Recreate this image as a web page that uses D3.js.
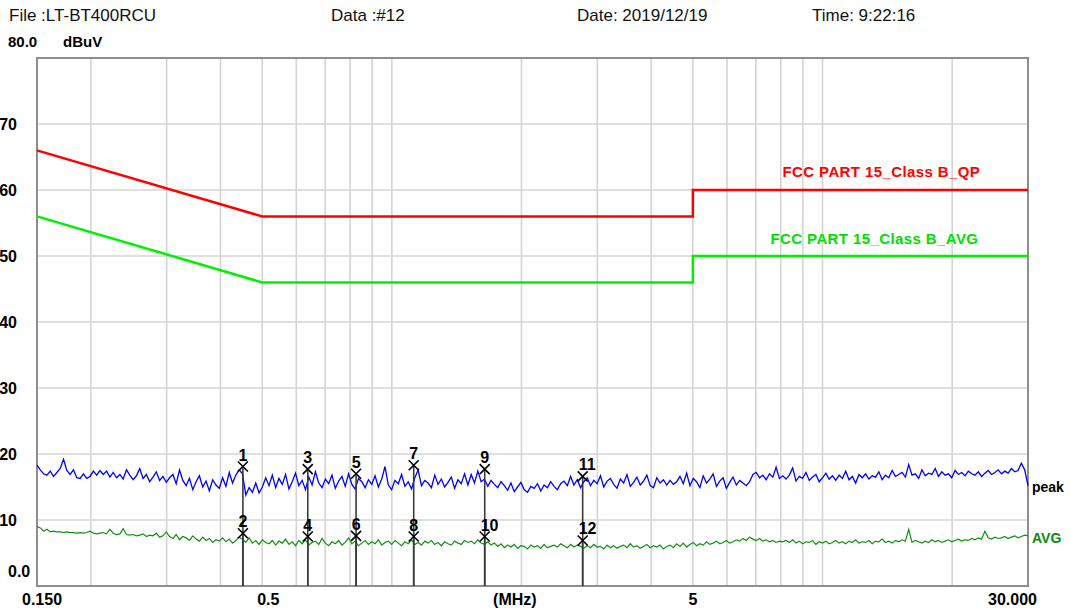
<!DOCTYPE html>
<html>
<head>
<meta charset="utf-8">
<script src="https://cdn.jsdelivr.net/npm/d3@7"></script>
<style>
  body { margin: 0; background: #fff; }
  svg { display: block; }
  text { font-family: "Liberation Sans", Arial, sans-serif; }
</style>
</head>
<body>
<div id="container"></div>
<script>
// header info
const headerLabels = ["File :LT-BT400RCU", "Data :#12", "Date: 2019/12/19", "Time: 9:22:16"];

// axes
const xGridFreqs = [0.2, 0.3, 0.4, 0.5, 0.6, 0.7, 0.8, 0.9, 1, 2, 3, 4, 5, 6, 7, 8, 9, 10, 20];
const xTickFreqs = [0.15, 0.5, 5, 30];
const xTickLabels = ["0.150", "0.5", "5", "30.000"];
const yTickValues = [0, 10, 20, 30, 40, 50, 60, 70];
const yTickLabels = ["0.0", "10", "20", "30", "40", "50", "60", "70"];

// limit lines (FCC Part 15 Class B)
const limitFreqs = [0.15, 0.5, 5, 5, 30];
const qpLimit = [66, 56, 56, 60, 60];
const avgLimit = [56, 46, 46, 50, 50];

// sweep 0.15 - 30 MHz, peak and average detector (dBuV)
const peakTrace = [
  18.3, 17.6, 17.0, 16.8, 17.4, 16.6, 17.2, 17.8, 19.2, 17.5, 16.9, 17.6, 16.4, 16.3, 17.0, 16.3, 16.6, 17.4, 16.8, 17.5, 16.9,
  17.4, 16.5, 17.2, 16.4, 16.9, 16.2, 17.6, 16.8, 16.1, 16.7, 17.8, 16.3, 16.9, 15.8, 16.5, 17.3, 16.0, 16.6, 15.7, 16.4,
  16.9, 15.5, 17.6, 16.0, 15.2, 16.3, 14.6, 15.8, 16.7, 15.0, 15.9, 14.4, 16.1, 15.3, 14.8, 16.4, 15.1, 17.2, 15.6, 16.8,
  17.6, 17.0, 13.8, 14.9, 14.2, 15.6, 14.1, 15.0, 16.4, 15.2,
  16.8, 14.9, 16.3, 15.4, 16.9, 14.7, 15.8, 17.1, 15.2, 16.0, 14.6, 16.5, 15.3, 17.3, 15.6, 14.9, 16.2, 15.5, 16.8, 14.8,
  15.9, 16.6, 15.1, 17.0, 15.4, 14.7, 16.3, 15.8, 14.9, 16.1,
  15.4, 16.7, 15.0, 16.2, 18.1, 15.3, 14.6, 16.0, 15.5, 16.9, 15.1, 15.8, 14.7, 16.4, 17.6, 15.2, 16.0, 15.6, 14.9, 16.8,
  15.4, 16.2, 15.0, 15.7, 16.5, 14.8, 16.1, 15.5, 17.0, 15.3,
  16.9, 15.6, 17.4, 15.8, 16.2, 15.1, 16.0, 15.4, 14.9, 15.8, 15.2, 14.5, 15.6, 14.3, 15.0, 15.7, 14.6, 14.2, 15.1, 14.8,
  15.5, 14.4, 15.3, 14.9, 15.8, 15.1, 14.6, 15.5, 15.9, 15.2,
  16.6, 15.3, 16.1, 14.9, 15.8, 16.4, 15.2, 16.0, 15.5, 16.7, 15.0, 15.9, 16.3, 15.4, 14.8, 16.2, 15.6, 16.9, 15.1, 15.7,
  16.5, 15.3, 15.9, 16.8, 15.2, 14.9, 16.4, 15.6, 16.1, 15.3,
  16.0, 15.4, 15.8, 16.6, 15.5, 17.1, 15.2, 16.3, 15.8, 14.9, 16.7, 15.6, 16.2, 17.0, 15.1, 15.9, 16.4, 14.8, 15.7, 16.5,
  15.3, 16.0, 15.6, 15.2, 15.8, 16.9, 17.2, 16.4, 16.8, 16.1, 17.0, 16.5, 18.0, 16.3, 16.7,
  16.2, 16.8, 17.9, 15.9, 16.6, 16.3, 17.2, 16.0, 16.5, 16.9, 15.8, 16.4, 17.1, 16.2, 16.7, 16.0, 16.8, 16.3, 17.4, 16.1,
  16.6, 15.6, 16.9, 16.4, 17.0, 16.2, 16.7, 16.5, 17.3, 16.1, 16.8, 16.4, 17.5, 16.6, 16.9,
  17.2, 16.5, 18.4, 16.8, 17.0, 16.3, 17.6, 16.7, 17.1, 16.9, 17.8, 16.6, 17.3, 16.8, 17.0, 16.4, 17.5, 16.9, 17.2, 16.7,
  17.4, 17.0, 16.8, 17.3, 16.6, 17.1, 17.5, 16.9, 17.2, 17.6, 17.0, 17.4, 17.1, 17.8, 17.3, 17.5, 18.6, 17.6, 15.2
];
const avgTrace = [
  9.0, 8.8, 8.3, 8.6, 8.2, 8.3, 8.2, 8.2, 8.1, 8.2, 8.1, 8.1, 8.0, 8.1, 8.0, 8.1, 8.3, 8.0, 7.9, 8.0, 8.1,
  7.9, 8.6, 8.0, 7.8, 7.9, 8.7, 7.8, 7.7, 7.8, 7.6, 7.7, 7.9, 7.5, 7.7, 7.6, 8.0, 7.4, 7.6, 8.2, 7.5,
  7.2, 7.8, 7.0, 7.5, 7.3, 6.9, 7.6, 7.1, 6.8, 7.4, 6.9, 7.2, 6.6, 7.0, 6.8, 7.3, 6.7, 7.1, 6.5, 6.9,
  7.4, 7.1, 6.6, 7.3, 6.5, 6.9, 6.3, 7.0, 6.6, 6.4,
  6.9, 6.2, 6.8, 6.5, 7.1, 6.3, 6.7, 6.1, 6.9, 6.4, 7.0, 6.2, 6.6, 6.8, 6.3, 7.2, 6.5, 6.1, 6.7, 6.4,
  6.9, 6.2, 6.6, 7.3, 6.4, 6.8, 6.1, 6.5, 6.9, 6.3,
  6.7, 6.4, 7.0, 6.2, 6.6, 6.8, 6.3, 6.9, 6.5, 6.1, 6.7, 6.4, 7.0, 6.3, 6.6, 6.2, 6.8, 6.5, 6.9, 6.3,
  6.6, 6.1, 6.7, 6.4, 6.2, 6.8, 6.5, 6.3, 6.9, 6.6,
  6.8, 6.4, 7.0, 6.5, 6.3, 6.7, 6.2, 6.5, 6.0, 6.4, 5.8, 6.2, 5.9, 6.3, 5.7, 6.1, 6.0, 5.6, 6.2, 5.9,
  6.1, 5.7, 6.3, 5.8, 6.0, 6.2, 5.9, 6.4, 6.1, 5.8,
  6.3, 5.9, 6.2, 6.0, 5.7, 6.1, 5.8, 6.3, 5.9, 6.0, 5.6, 6.2, 5.8, 6.1, 5.7, 6.0, 6.2, 5.8, 6.4, 5.9,
  6.1, 5.7, 6.0, 6.3, 5.8, 6.1, 5.9, 6.2, 5.6, 6.0,
  6.2, 5.8, 6.4, 6.0, 6.5, 5.9, 6.3, 6.6, 6.1, 6.4, 6.2, 6.7, 6.3, 6.5, 6.8, 6.4, 6.6, 6.9, 6.5, 6.7,
  7.0, 6.8, 7.2, 6.9, 7.4, 7.1, 6.9, 7.2, 6.8, 7.0, 6.7, 6.9, 6.6, 6.8, 6.7,
  6.9, 6.6, 7.0, 6.5, 6.8, 6.4, 6.7, 6.6, 6.9, 6.3, 6.7, 6.5, 6.8, 6.4, 6.6, 6.9, 6.5, 6.7, 6.4, 6.8,
  6.6, 7.0, 6.5, 6.7, 6.6, 6.9, 6.4, 6.8, 6.7, 7.1, 6.6, 6.8, 6.5, 6.9, 6.7,
  7.0, 6.8, 8.6, 6.6, 6.9, 6.7, 6.5, 6.8, 6.6, 7.0, 6.7, 6.9, 6.6, 6.8, 7.0, 6.7, 6.9, 7.1, 6.8, 7.0,
  6.9, 7.2, 7.0, 7.3, 7.1, 8.3, 7.3, 7.1, 7.4, 7.2, 7.3, 7.5, 7.2, 7.4, 7.6, 7.3, 7.5, 7.7, 7.6
];

// markers
const markerFreqs = [0.451, 0.451, 0.638, 0.638, 0.826, 0.826, 1.124, 1.124, 1.643, 1.643, 2.774, 2.774];
const markerLevels = [18.1, 8.0, 17.7, 7.5, 17.0, 7.6, 18.3, 7.5, 17.7, 7.5, 16.6, 6.9];
const markerLabels = ["1", "2", "3", "4", "5", "6", "7", "8", "9", "10", "11", "12"];

const width = 1070;
const height = 610;
const margin = { top: 58, right: 42, bottom: 24, left: 37 };

const svg = d3.select("#container")
  .append("svg")
  .attr("width", width)
  .attr("height", height);

const x = d3.scaleLog()
  .domain([0.15, 30])
  .range([margin.left, width - margin.right]);

const y = d3.scaleLinear()
  .domain([0, 80])
  .range([height - margin.bottom, margin.top]);

// header
const headerX = [9, 331, 577, 812];
svg.append("g")
  .selectAll("text")
  .data(headerLabels)
  .join("text")
  .attr("x", (d, i) => headerX[i])
  .attr("y", 21)
  .attr("font-size", "17px")
  .attr("fill", "#111")
  .text(d => d);

// grid
svg.append("g")
  .attr("stroke", "#d4d4d4")
  .attr("stroke-width", 1.6)
  .selectAll("line")
  .data(xGridFreqs)
  .join("line")
  .attr("x1", d => x(d)).attr("x2", d => x(d))
  .attr("y1", y(0)).attr("y2", y(80));

svg.append("g")
  .attr("stroke", "#d4d4d4")
  .attr("stroke-width", 1.6)
  .selectAll("line")
  .data(yTickValues.slice(1))
  .join("line")
  .attr("x1", x(0.15)).attr("x2", x(30))
  .attr("y1", d => y(d)).attr("y2", d => y(d));

// frame
svg.append("rect")
  .attr("x", x(0.15))
  .attr("y", y(80))
  .attr("width", x(30) - x(0.15))
  .attr("height", y(0) - y(80))
  .attr("fill", "none")
  .attr("stroke", "#8e8e8e")
  .attr("stroke-width", 2);

// y labels
svg.append("g")
  .attr("font-size", "16px")
  .attr("font-weight", "bold")
  .selectAll("text")
  .data(yTickValues)
  .join("text")
  .attr("x", d => d === 0 ? 8 : 17)
  .attr("y", d => d === 0 ? y(d) - 9 : y(d) + 6)
  .attr("text-anchor", d => d === 0 ? "start" : "end")
  .text((d, i) => yTickLabels[i]);

svg.append("text")
  .attr("x", 8).attr("y", y(80) - 11)
  .attr("font-size", "15px").attr("font-weight", "bold")
  .text("80.0");
svg.append("text")
  .attr("x", 63).attr("y", y(80) - 11)
  .attr("font-size", "15px").attr("font-weight", "bold")
  .text("dBuV");

// x labels
const xLabelAnchor = ["start", "start", "middle", "end"];
const xLabelDx = [-15, -5, 0, 9];
svg.append("g")
  .attr("font-size", "16px")
  .attr("font-weight", "bold")
  .selectAll("text")
  .data(xTickFreqs)
  .join("text")
  .attr("x", (d, i) => x(d) + xLabelDx[i])
  .attr("y", height - 5)
  .attr("text-anchor", (d, i) => xLabelAnchor[i])
  .text((d, i) => xTickLabels[i]);

svg.append("text")
  .attr("x", x(1.93)).attr("y", height - 5)
  .attr("text-anchor", "middle")
  .attr("font-size", "16px").attr("font-weight", "bold")
  .text("(MHz)");

// limit lines
const limitLine = d3.line()
  .x((d, i) => x(limitFreqs[i]))
  .y(d => y(d));

svg.append("path")
  .attr("d", limitLine(qpLimit))
  .attr("fill", "none")
  .attr("stroke", "#ff0000")
  .attr("stroke-width", 2.5);

svg.append("path")
  .attr("d", limitLine(avgLimit))
  .attr("fill", "none")
  .attr("stroke", "#00f000")
  .attr("stroke-width", 2.5);

svg.append("text")
  .attr("x", x(13.7)).attr("y", y(60) - 13)
  .attr("text-anchor", "middle")
  .attr("font-size", "15px").attr("font-weight", "bold")
  .attr("letter-spacing", "0.4px")
  .attr("fill", "#ff0000")
  .text("FCC PART 15_Class B_QP");

svg.append("text")
  .attr("x", x(13.2)).attr("y", y(50) - 12)
  .attr("text-anchor", "middle")
  .attr("font-size", "15px").attr("font-weight", "bold")
  .attr("letter-spacing", "0.4px")
  .attr("fill", "#00e000")
  .text("FCC PART 15_Class B_AVG");

// traces, points spread evenly on the log axis
function sweepFreq(i, n) {
  return 0.15 * Math.pow(30 / 0.15, i / (n - 1));
}
const traceLine = d3.line()
  .x((d, i, arr) => x(sweepFreq(i, arr.length)))
  .y(d => y(d));

svg.append("path")
  .attr("d", traceLine(avgTrace))
  .attr("fill", "none")
  .attr("stroke", "#129012")
  .attr("stroke-width", 1.2);

svg.append("path")
  .attr("d", traceLine(peakTrace))
  .attr("fill", "none")
  .attr("stroke", "#0000ff")
  .attr("stroke-width", 1.3);

svg.append("text")
  .attr("x", width - margin.right + 4).attr("y", y(peakTrace[peakTrace.length - 1]) + 6)
  .attr("font-size", "14px").attr("font-weight", "bold")
  .text("peak");

svg.append("text")
  .attr("x", width - margin.right + 4).attr("y", y(avgTrace[avgTrace.length - 1]) + 7)
  .attr("font-size", "14px").attr("font-weight", "bold")
  .attr("fill", "#0a8a0a")
  .text("AVG");

// markers
const markers = markerFreqs.map((f, i) => ({ f, level: markerLevels[i], label: markerLabels[i] }));

svg.append("g")
  .attr("stroke", "#3a3a3a")
  .attr("stroke-width", 1.6)
  .selectAll("line")
  .data(markers)
  .join("line")
  .attr("x1", d => x(d.f)).attr("x2", d => x(d.f))
  .attr("y1", y(0)).attr("y2", d => y(d.level));

svg.append("g")
  .attr("stroke", "#000")
  .attr("stroke-width", 1.6)
  .selectAll("path")
  .data(markers)
  .join("path")
  .attr("d", d => {
    const cx = x(d.f), cy = y(d.level), s = 5;
    return `M${cx - s},${cy - s}L${cx + s},${cy + s}M${cx - s},${cy + s}L${cx + s},${cy - s}`;
  });

svg.append("g")
  .attr("font-size", "16px")
  .attr("font-weight", "bold")
  .selectAll("text")
  .data(markers)
  .join("text")
  .attr("x", d => d.label.length > 1 ? x(d.f) - 4 : x(d.f))
  .attr("y", d => y(d.level) - 6)
  .attr("text-anchor", d => d.label.length > 1 ? "start" : "middle")
  .text(d => d.label);
</script>
</body>
</html>
